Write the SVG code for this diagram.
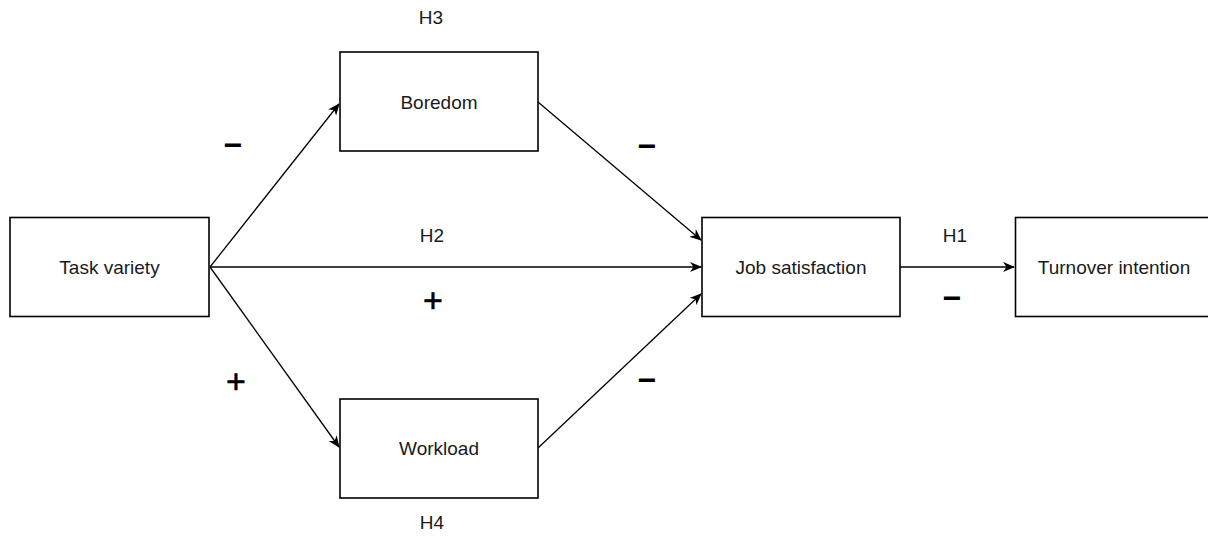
<svg xmlns="http://www.w3.org/2000/svg" width="1208" height="558" viewBox="0 0 1208 558">
<defs>
<marker id="arr" viewBox="0 0 12 10" refX="11" refY="5" markerWidth="12" markerHeight="10" markerUnits="userSpaceOnUse" orient="auto">
<path d="M0,0 L12,5 L0,10 L3.5,5 z" fill="#000"/>
</marker>
<style>
.box{fill:#fff;stroke:#000;stroke-width:1.6}
.lbl{font-family:"Liberation Sans",Arial,sans-serif;font-size:19px;fill:#1a1a1a;text-anchor:middle;dominant-baseline:central}
.sign{font-family:"Liberation Sans",Arial,sans-serif;font-size:32px;font-weight:bold;fill:#000;text-anchor:middle;dominant-baseline:central}
.plus{font-family:"Liberation Sans",Arial,sans-serif;font-size:34px;fill:#000;text-anchor:middle;dominant-baseline:central;stroke:#000;stroke-width:0.6}
.edge{fill:none;stroke:#000;stroke-width:1.3;marker-end:url(#arr)}
</style>
</defs>
<rect width="1208" height="558" fill="#fff"/>
<g id="connectors">
<path class="edge" d="M210,267 L339,104"/>
<path class="edge" d="M210,267 L339,447"/>
<path class="edge" d="M210,267 L701,267"/>
<path class="edge" d="M538,102 L701,240"/>
<path class="edge" d="M538,448 L701,294"/>
<path class="edge" d="M900,267 L1014,267"/>
</g>
<g id="task-variety"><rect class="box" x="10" y="217.5" width="199" height="99"/><text class="lbl" x="109.5" y="267">Task variety</text></g>
<g id="boredom"><rect class="box" x="340" y="52" width="198" height="99"/><text class="lbl" x="439" y="102">Boredom</text></g>
<g id="workload"><rect class="box" x="340" y="399" width="198" height="99"/><text class="lbl" x="439" y="448">Workload</text></g>
<g id="job-satisfaction"><rect class="box" x="702" y="217.5" width="198" height="99"/><text class="lbl" x="801" y="267">Job satisfaction</text></g>
<g id="turnover-intention"><rect class="box" x="1015.5" y="217.5" width="200" height="99"/><text class="lbl" x="1114" y="267">Turnover intention</text></g>
<g id="labels">
<text class="lbl" x="431" y="17">H3</text>
<text class="lbl" x="432" y="235">H2</text>
<text class="lbl" x="955" y="235">H1</text>
<text class="lbl" x="432" y="522">H4</text>
<text class="sign" x="233" y="145">−</text>
<text class="sign" x="647" y="146">−</text>
<text class="sign" x="647" y="380">−</text>
<text class="sign" x="952" y="298">−</text>
<text class="plus" x="433" y="300">+</text>
<text class="plus" x="236" y="381">+</text>
</g>
</svg>
